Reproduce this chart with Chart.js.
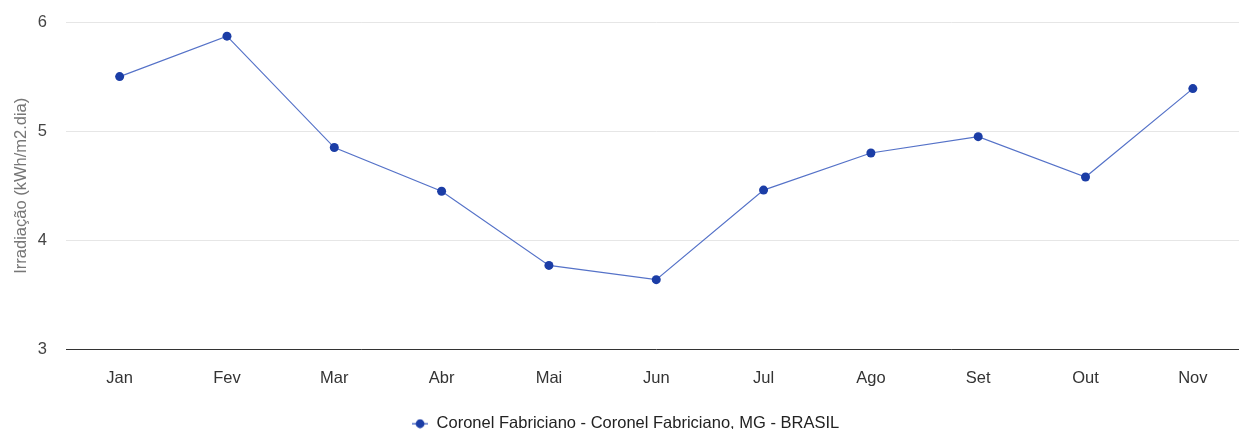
<!DOCTYPE html>
<html>
<head>
<meta charset="utf-8">
<script src="https://cdn.jsdelivr.net/npm/chart.js@4/dist/chart.umd.min.js"></script>
<style>
  html, body { margin: 0; padding: 0; background: #fff; overflow: hidden; }
  #wrap { position: relative; width: 1251px; height: 442px; }
</style>
</head>
<body>
<div id="wrap"><canvas id="c"></canvas></div>
<script>
// Monthly irradiation, Coronel Fabriciano (MG)
const months = ['Jan', 'Fev', 'Mar', 'Abr', 'Mai', 'Jun', 'Jul', 'Ago', 'Set', 'Out', 'Nov'];
const irradiation = [5.50, 5.87, 4.85, 4.45, 3.77, 3.64, 4.46, 4.80, 4.95, 4.58, 5.39];
const yTicks = [3, 4, 5, 6];
const seriesName = 'Coronel Fabriciano - Coronel Fabriciano, MG - BRASIL';
const yTitle = 'Irradiação (kWh/m2.dia)';

const LINE_COLOR = '#5572c8';
const POINT_COLOR = '#1b3da6';
const FONT = "Arial, 'Liberation Sans', sans-serif";
const FS = 16.5;

// legend marker: short line with a dot in the middle
function legendMarker() {
  const cv = document.createElement('canvas');
  cv.width = 16; cv.height = 10;
  const g = cv.getContext('2d');
  g.strokeStyle = LINE_COLOR;
  g.lineWidth = 1.5;
  g.beginPath(); g.moveTo(0, 5); g.lineTo(16, 5); g.stroke();
  g.fillStyle = POINT_COLOR;
  g.beginPath(); g.arc(8, 5, 4.4, 0, Math.PI * 2); g.fill();
  return cv;
}
const marker = legendMarker();

new Chart(document.getElementById('c'), {
  type: 'line',
  data: {
    labels: months,
    datasets: [{
      label: seriesName,
      data: irradiation,
      borderColor: LINE_COLOR,
      borderWidth: 1.2,
      backgroundColor: POINT_COLOR,
      pointBackgroundColor: POINT_COLOR,
      pointBorderColor: POINT_COLOR,
      pointRadius: 4.5,
      pointBorderWidth: 0,
      pointStyle: 'circle',
      tension: 0,
      fill: false
    }]
  },
  options: {
    responsive: true,
    maintainAspectRatio: false,
    animation: false,
    layout: { padding: { top: 22, right: 0, left: 0, bottom: 0 } },
    plugins: {
      tooltip: { enabled: false },
      legend: {
        position: 'bottom',
        labels: {
          usePointStyle: true,
          pointStyle: marker,
          padding: 10,
          color: '#222',
          font: { family: FONT, size: FS },
          generateLabels(chart) {
            return chart.data.datasets.map((ds, i) => ({
              text: ds.label,
              pointStyle: marker,
              fillStyle: POINT_COLOR,
              strokeStyle: POINT_COLOR,
              lineWidth: 0,
              fontColor: '#222',
              hidden: false,
              datasetIndex: i
            }));
          }
        }
      }
    },
    scales: {
      x: {
        offset: true,
        grid: { display: false, drawTicks: false },
        border: { display: true, color: '#333', width: 1 },
        ticks: { color: '#333', padding: 19, font: { family: FONT, size: FS } },
        afterFit(scale) { scale.height = 56; }
      },
      y: {
        min: 3,
        max: 6,
        afterBuildTicks(scale) { scale.ticks = yTicks.map(v => ({ value: v })); },
        grid: { color: '#e6e6e6', drawTicks: false, lineWidth: 1 },
        border: { display: false },
        ticks: { color: '#444', padding: 19, font: { family: FONT, size: FS } },
        title: {
          display: true,
          text: yTitle,
          color: '#777',
          padding: { top: 12, bottom: 0 },
          font: { family: FONT, size: FS }
        },
        afterFit(scale) {
          scale.width = 66;
          scale.paddingTop = 0;
          scale.paddingBottom = 0;
        }
      }
    }
  }
});
</script>
</body>
</html>
